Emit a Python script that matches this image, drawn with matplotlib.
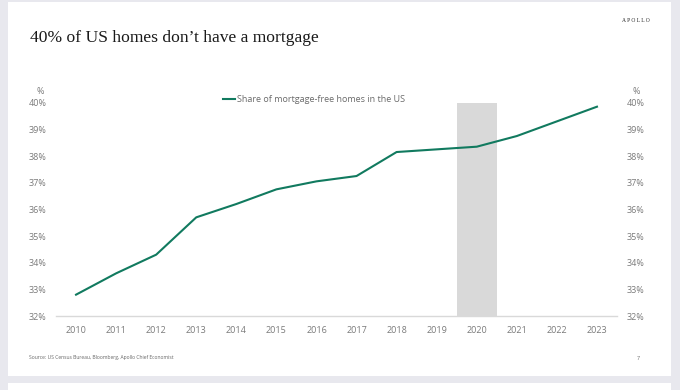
import matplotlib.pyplot as plt
from matplotlib.patches import Rectangle

# data
years = list(range(2010, 2024))
share = [32.8, 33.6, 34.3, 35.7, 36.2, 36.75, 37.05, 37.25, 38.15, 38.25, 38.35, 38.75, 39.3, 39.85]
shade_span = [2019.5, 2020.5]
yticks = list(range(32, 41))
ytick_labels = [f"{v}%" for v in yticks]
series_label = "Share of mortgage-free homes in the US"
title = "40% of US homes don\u2019t have a mortgage"
source = "Source: US Census Bureau, Bloomberg, Apollo Chief Economist"

W, H = 680, 390
green = '#117a5f'
grey_txt = '#7a7a7a'
sans = ['Open Sans', 'DejaVu Sans']
serif = ['Liberation Serif', 'DejaVu Serif']

fig = plt.figure(figsize=(W / 100, H / 100), dpi=100)
fig.patch.set_facecolor('#e8e8ee')

# slide card and the top of the next one
fig.patches.append(Rectangle((8 / W, 1 - 376 / H), 663 / W, 374 / H, transform=fig.transFigure,
                             facecolor='white', edgecolor='none', zorder=-10))
fig.patches.append(Rectangle((8 / W, 0), 663 / W, 7 / H, transform=fig.transFigure,
                             facecolor='white', edgecolor='none', zorder=-10))

ax = fig.add_axes([56 / W, 1 - 316 / H, 561 / W, 213.3 / H])
ax.set_facecolor('none')
ax.axvspan(shade_span[0], shade_span[1], color='#d9d9d9', lw=0, zorder=1)
ax.plot(years, share, color=green, lw=1.5, label=series_label, zorder=3)

ax.set_xlim(2009.5, 2023.5)
ax.set_ylim(32, 40)
ax.set_xticks(years)
ax.set_xticklabels([str(y) for y in years], family=sans, fontsize=6.5, color=grey_txt)
ax.set_yticks(yticks)
ax.set_yticklabels(ytick_labels, family=sans, fontsize=6.5, color=grey_txt)
ax.tick_params(axis='x', length=0, pad=7)
ax.tick_params(axis='y', length=0, pad=7)
for s in ['top', 'left', 'right']:
    ax.spines[s].set_visible(False)
ax.spines['bottom'].set_color('#d9d9d9')
ax.spines['bottom'].set_linewidth(1)

ax2 = ax.twinx()
ax2.set_ylim(32, 40)
ax2.set_yticks(yticks)
ax2.set_yticklabels(ytick_labels, family=sans, fontsize=6.5, color=grey_txt)
ax2.tick_params(axis='y', length=0, pad=7)
for s in ax2.spines.values():
    s.set_visible(False)

leg = ax.legend(loc='center', bbox_to_anchor=(0.46, 1.013), frameon=False,
                handlelength=1.3, handletextpad=0.2, prop={'family': sans, 'size': 6.5})
for t in leg.get_texts():
    t.set_color('#6a6a6a')

fig.text(40 / W, 1 - 92 / H, '%', ha='center', va='center', family=sans, fontsize=6.5, color=grey_txt)
fig.text(636 / W, 1 - 92 / H, '%', ha='center', va='center', family=sans, fontsize=6.5, color=grey_txt)

fig.text(30 / W, 1 - 38.5 / H, title, ha='left', va='center', family=serif, fontsize=12.6, color='#1a1a1a')
fig.text(650 / W, 1 - 21 / H, 'A P O L L O', ha='right', va='center', family=serif, fontsize=4,
         color='#222222')
fig.text(29 / W, 1 - 358 / H, source, ha='left', va='center', family=sans, fontsize=3.6, color='#666666')
fig.text(638 / W, 1 - 358 / H, '7', ha='center', va='center', family=sans, fontsize=3.8, color='#666666')

fig.savefig('out.png', dpi=100, facecolor=fig.get_facecolor())
